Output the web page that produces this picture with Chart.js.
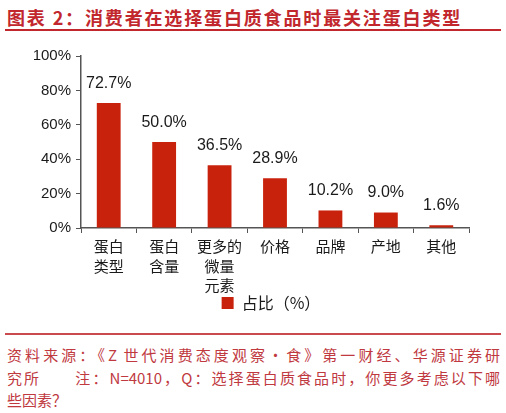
<!DOCTYPE html>
<html>
<head>
<meta charset="utf-8">
<script src="https://cdn.jsdelivr.net/npm/chart.js@4/dist/chart.umd.min.js"></script>
<style>
    body { margin: 0; background: #fff; width: 506px; height: 413px; overflow: hidden; position: relative; font-family: "Noto Sans CJK SC", sans-serif; }
    .title { position: absolute; left: 7px; top: 4px; font-size: 18px; font-weight: bold; color: #c1272d; letter-spacing: 1.85px; white-space: nowrap; }
    .rule-top { position: absolute; left: 5px; top: 29px; width: 496px; height: 2px; background: #c1272d; }
    .rule-bottom { position: absolute; left: 5px; top: 333px; width: 496px; height: 2px; background: #c94a4f; }
    .chart-box { position: absolute; left: 0; top: 38px; width: 506px; height: 290px; }
    .note { position: absolute; left: 7px; width: 493px; font-size: 15px; color: #c0393f; white-space: nowrap; line-height: 22px; }
    .note.j { text-align: justify; text-align-last: justify; }
</style>
</head>
<body>
    <div class="title">图表 2：消费者在选择蛋白质食品时最关注蛋白类型</div>
    <div class="rule-top"></div>
    <div class="chart-box"><canvas id="proteinChart"></canvas></div>
    <div class="rule-bottom"></div>
    <div class="note j" style="top:344px">资料来源：《Z 世代消费态度观察•食》第一财经、华源证券研</div>
    <div class="note j" style="top:367px">究所　　注：N=4010，Q：选择蛋白质食品时，你更多考虑以下哪</div>
    <div class="note" style="top:389px">些因素？</div>

<script>
// 数据
const categories = [['蛋白', '类型'], ['蛋白', '含量'], ['更多的', '微量', '元素'], '价格', '品牌', '产地', '其他'];
const shareValues = [72.7, 50.0, 36.5, 28.9, 10.2, 9.0, 1.6];
const yTicks = [0, 20, 40, 60, 80, 100];
const seriesName = '占比（%）';

const barColor = '#c9220c';
const axisColor = '#555';
const textColor = '#1a1a1a';

// rótulos em cima das barras
const valueLabels = {
    id: 'valueLabels',
    afterDatasetsDraw(chart) {
        const ctx = chart.ctx;
        const meta = chart.getDatasetMeta(0);
        ctx.save();
        ctx.font = '16px "Liberation Sans", Arial, sans-serif';
        ctx.fillStyle = textColor;
        ctx.textAlign = 'center';
        ctx.textBaseline = 'middle';
        meta.data.forEach((bar, i) => {
            ctx.fillText(shareValues[i].toFixed(1) + '%', bar.x, bar.y - 19.5);
        });
        ctx.restore();
    }
};

// legenda centrada sobre a área do gráfico e um pouco mais para cima
const legendShift = {
    id: 'legendShift',
    afterLayout(chart) {
        const lg = chart.legend;
        if (!lg) return;
        const dx = (chart.chartArea.left + chart.chartArea.right) / 2 - (lg.left + lg.right) / 2 - 4;
        lg.left += dx;
        lg.right += dx;
        lg.top -= 7;
        lg.bottom -= 7;
    }
};

new Chart(document.getElementById('proteinChart').getContext('2d'), {
    type: 'bar',
    data: {
        labels: categories,
        datasets: [{
            label: seriesName,
            data: shareValues,
            backgroundColor: barColor,
            borderWidth: 0,
            barPercentage: 0.86,
            categoryPercentage: 0.5
        }]
    },
    options: {
        responsive: true,
        maintainAspectRatio: false,
        animation: false,
        layout: { padding: { top: 18, left: 34, right: 37, bottom: 0 } },
        plugins: {
            legend: {
                position: 'bottom',
                labels: {
                    color: textColor,
                    boxWidth: 12,
                    boxHeight: 12,
                    padding: 6,
                    font: { size: 16, family: '"Noto Sans CJK SC", sans-serif' }
                }
            },
            tooltip: { enabled: false }
        },
        scales: {
            x: {
                grid: { display: true, drawOnChartArea: false, drawTicks: true, tickLength: 5, color: axisColor, offset: true },
                border: { display: true, color: axisColor, width: 1.5 },
                ticks: {
                    color: textColor,
                    padding: 4,
                    maxRotation: 0,
                    autoSkip: false,
                    font: { size: 15, lineHeight: 1.3, family: '"Noto Sans CJK SC", sans-serif' }
                },
                afterFit(scale) { scale.height = 68; }
            },
            y: {
                min: 0,
                max: 100,
                afterBuildTicks(scale) { scale.ticks = yTicks.map(v => ({ value: v })); },
                grid: { display: true, drawOnChartArea: false, drawTicks: true, tickLength: 5, color: axisColor },
                border: { display: true, color: axisColor, width: 1.5 },
                ticks: {
                    color: textColor,
                    padding: 5,
                    font: { size: 15, family: '"Liberation Sans", Arial, sans-serif' },
                    callback: v => v + '%'
                },
                afterFit(scale) { scale.width = 47; }
            }
        }
    },
    plugins: [valueLabels, legendShift]
});
</script>
</body>
</html>
